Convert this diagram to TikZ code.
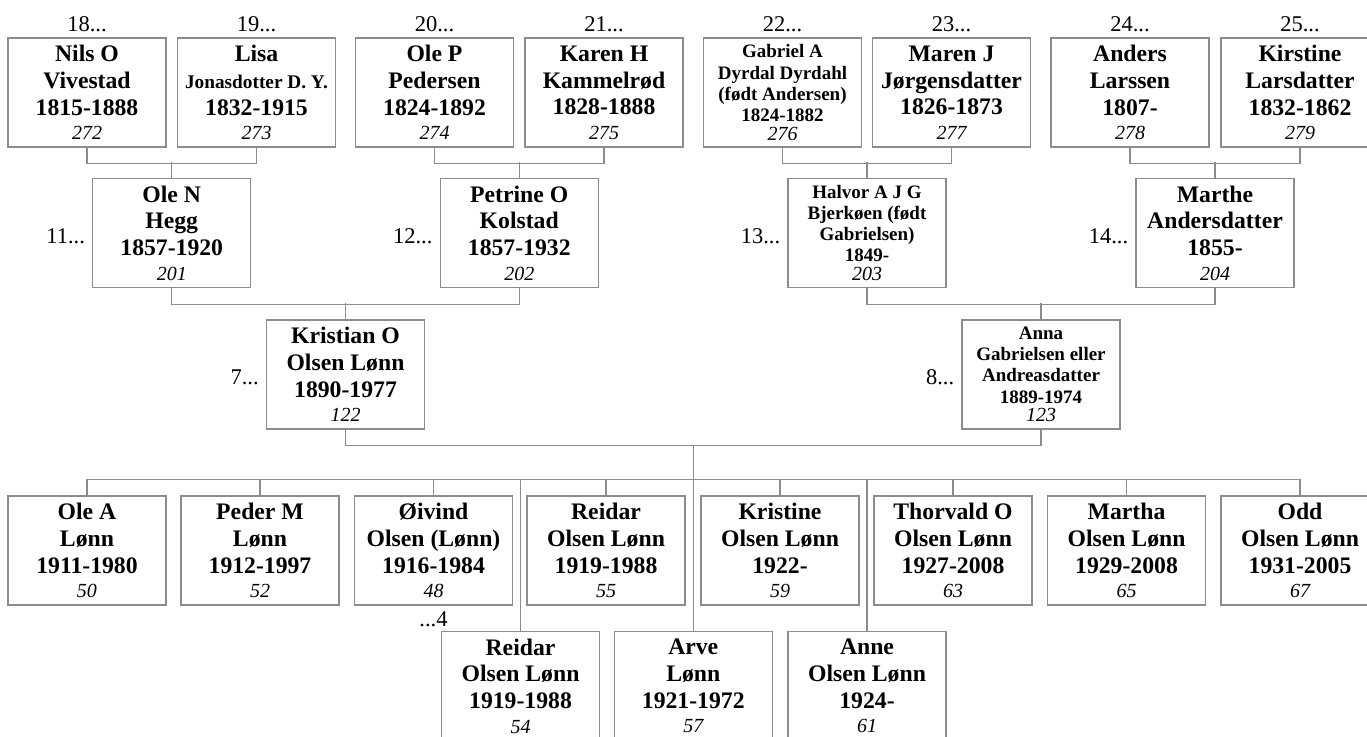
\documentclass[tikz,border=0pt]{standalone}
\usepackage{fontspec}
\setmainfont{Liberation Serif}
\definecolor{linegray}{RGB}{140,140,140}
\newcommand{\pnum}[1]{\\[-2.5pt]{\fontsize{20}{22}\selectfont\mdseries\itshape #1}}
\tikzset{
  pbox/.style={draw=linegray, line width=1.3pt, minimum width=158pt, minimum height=109pt,
    inner sep=0pt, align=center, font=\fontsize{23.7}{26.8}\selectfont\bfseries},
  sbox/.style={pbox, font=\fontsize{19}{21.2}\selectfont\bfseries},
  lbl/.style={font=\fontsize{22.5}{24}\selectfont, inner sep=0pt},
  conn/.style={draw=linegray, line width=1.3pt},
}
\begin{document}
\begin{tikzpicture}[x=1pt,y=-1pt]
\useasboundingbox (0,0) rectangle (1367,736);
% generation 4 (top row)
\node[pbox] (p272) at (87,92.5) {Nils O\\Vivestad\\1815-1888\pnum{272}};
\node[pbox] (p273) at (256.5,92.5) {Lisa\\{\fontsize{19.3}{20}\selectfont Jonasdotter D. Y.}\\1832-1915\pnum{273}};
\node[pbox] (p274) at (434.5,92.5) {Ole P\\Pedersen\\1824-1892\pnum{274}};
\node[pbox] (p275) at (604,92.5) {Karen H\\Kammelrød\\1828-1888\pnum{275}};
\node[sbox] (p276) at (782.5,92.5) {Gabriel A\\Dyrdal Dyrdahl\\(født Andersen)\\1824-1882\pnum{276}};
\node[pbox] (p277) at (951.5,92.5) {Maren J\\Jørgensdatter\\1826-1873\pnum{277}};
\node[pbox] (p278) at (1130,92.5) {Anders\\Larssen\\1807-\pnum{278}};
\node[pbox] (p279) at (1300,92.5) {Kirstine\\Larsdatter\\1832-1862\pnum{279}};
% generation 3
\node[pbox] (p201) at (171.75,233) {Ole N\\Hegg\\1857-1920\pnum{201}};
\node[pbox] (p202) at (519.25,233) {Petrine O\\Kolstad\\1857-1932\pnum{202}};
\node[sbox] (p203) at (867,233) {Halvor A J G\\Bjerkøen (født\\Gabrielsen)\\1849-\pnum{203}};
\node[pbox] (p204) at (1215,233) {Marthe\\Andersdatter\\1855-\pnum{204}};
% generation 2
\node[pbox] (p122) at (345.5,374.5) {Kristian O\\Olsen Lønn\\1890-1977\pnum{122}};
\node[sbox] (p123) at (1041,374.5) {Anna\\Gabrielsen eller\\Andreasdatter\\1889-1974\pnum{123}};
% children row 1
\node[pbox] (p50) at (87,550.5) {Ole A\\Lønn\\1911-1980\pnum{50}};
\node[pbox] (p52) at (260,550.5) {Peder M\\Lønn\\1912-1997\pnum{52}};
\node[pbox] (p48) at (433.5,550.5) {Øivind\\Olsen (Lønn)\\1916-1984\pnum{48}};
\node[pbox] (p55) at (606,550.5) {Reidar\\Olsen Lønn\\1919-1988\pnum{55}};
\node[pbox] (p59) at (780,550.5) {Kristine\\Olsen Lønn\\1922-\pnum{59}};
\node[pbox] (p63) at (953,550.5) {Thorvald O\\Olsen Lønn\\1927-2008\pnum{63}};
\node[pbox] (p65) at (1126.5,550.5) {Martha\\Olsen Lønn\\1929-2008\pnum{65}};
\node[pbox] (p67) at (1300,550.5) {Odd\\Olsen Lønn\\1931-2005\pnum{67}};
% children row 2
\node[pbox] (p54) at (520.5,686) {Reidar\\Olsen Lønn\\1919-1988\pnum{54}};
\node[pbox] (p57) at (693.25,686) {Arve\\Lønn\\1921-1972\pnum{57}};
\node[pbox] (p61) at (867,686) {Anne\\Olsen Lønn\\1924-\pnum{61}};
% top labels
\foreach \b/\t in {p272/18,p273/19,p274/20,p275/21,p276/22,p277/23,p278/24,p279/25}
  \node[lbl, anchor=base] (l\t) at ([yshift=5.5pt]\b.north) {\t...};
% side labels
\node[lbl, anchor=east] (l11) at ([xshift=-7pt,yshift=-3pt]p201.west) {11...};
\node[lbl, anchor=east] (l12) at ([xshift=-7pt,yshift=-3pt]p202.west) {12...};
\node[lbl, anchor=east] (l13) at ([xshift=-7pt,yshift=-3pt]p203.west) {13...};
\node[lbl, anchor=east] (l14) at ([xshift=-7pt,yshift=-3pt]p204.west) {14...};
\node[lbl, anchor=east] (l7) at ([xshift=-7pt,yshift=-3pt]p122.west) {7...};
\node[lbl, anchor=east] (l8) at ([xshift=-7pt,yshift=-3pt]p123.west) {8...};
\node[lbl, anchor=base] (l4) at ([yshift=-21pt]p48.south) {...4};
% connectors: top pairs
\foreach \a/\b/\c in {p272/p273/p201,p274/p275/p202,p276/p277/p203,p278/p279/p204}{
  \draw[conn] (\a.south) -- ++(0,16) -| (\b.south);
  \draw[conn] (\c.north) -- ++(0,-16);
}
\foreach \a/\b/\c in {p201/p202/p122,p203/p204/p123}{
  \draw[conn] (\a.south) -- ++(0,16) -| (\b.south);
  \draw[conn] (\c.north) -- ++(0,-16);
}
% parents to children
\draw[conn] (p122.south) -- ++(0,16) -| (p123.south);
\coordinate (fam) at (693.25,445);
\coordinate (sib) at (0,479);
\draw[conn] (fam) -- (p57.north);
\draw[conn] (p50.north) -- ++(0,-16) -| (p67.north);
\foreach \c in {p52,p48,p55,p59,p63,p65}
  \draw[conn] (\c.north) -- ++(0,-16);
\draw[conn] (p54.north) -- (p54.north |- sib);
\draw[conn] (p61.north) -- (p61.north |- sib);
\end{tikzpicture}
\end{document}
